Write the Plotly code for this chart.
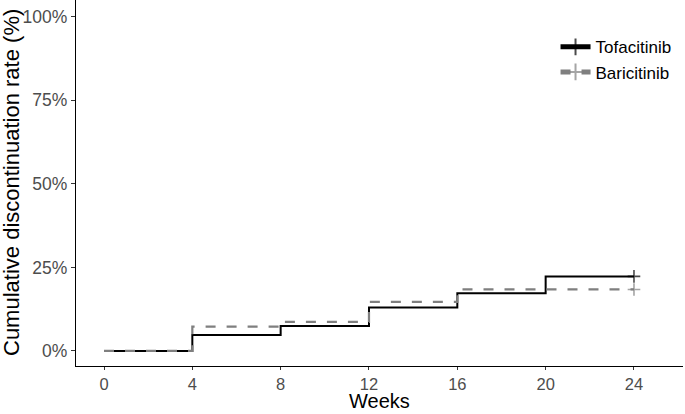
import plotly.graph_objects as go

# Data (weeks, cumulative discontinuation %)
tofa_weeks = [0, 4, 8, 12, 16, 20, 24]
tofa_rate = [0.0, 4.8, 7.5, 13.0, 17.3, 22.3, 22.3]
bari_weeks = [0, 4, 8, 12, 16, 20, 24]
bari_rate = [0.0, 7.3, 8.7, 14.7, 18.4, 18.4, 18.4]
x_ticks = [0, 4, 8, 12, 16, 20, 24]
y_ticks = [0, 25, 50, 75, 100]
y_ticklabels = ["0%", "25%", "50%", "75%", "100%"]

def sizes(n, last):
    return [0] * (n - 1) + [last]

fig = go.Figure()
fig.add_trace(go.Scatter(
    x=tofa_weeks, y=tofa_rate, name="Tofacitinib",
    mode="lines+markers", line=dict(shape="hv", color="black", width=2),
    marker=dict(symbol="cross-thin", size=sizes(len(tofa_weeks), 9),
                line=dict(color="black", width=1.6), color="black"),
))
fig.add_trace(go.Scatter(
    x=bari_weeks, y=bari_rate, name="Baricitinib",
    mode="lines+markers", line=dict(shape="hv", color="#7f7f7f", width=2.2, dash="10px,11px"),
    marker=dict(symbol="cross-thin", size=sizes(len(bari_weeks), 9),
                line=dict(color="#7f7f7f", width=1.6), color="#7f7f7f"),
))

fig.update_layout(
    width=685, height=414,
    margin=dict(l=76, r=2, t=0, b=48, autoexpand=False),
    paper_bgcolor="white", plot_bgcolor="white",
    font=dict(family="Liberation Sans, Arial, sans-serif", color="black"),
    showlegend=True,
    legend=dict(x=0.79, y=0.92, xanchor="left", yanchor="top",
                font=dict(size=17, color="black"), itemsizing="constant",
                bgcolor="rgba(0,0,0,0)", tracegroupgap=0),
    xaxis=dict(
        range=[-1.268, 26.22], tickvals=x_ticks, ticktext=[str(v) for v in x_ticks],
        showgrid=False, zeroline=False, showline=True, linecolor="black", linewidth=1.3,
        ticks="outside", ticklen=3, tickcolor="#333333", tickwidth=1.2,
        tickfont=dict(size=16.5, color="#4d4d4d"), automargin=False,
    ),
    yaxis=dict(
        range=[-4.5, 105], tickvals=y_ticks, ticktext=y_ticklabels,
        showgrid=False, zeroline=False, showline=True, linecolor="black", linewidth=1.3,
        ticks="outside", ticklen=4, tickcolor="#333333", tickwidth=1.2,
        tickfont=dict(size=17.5, color="#4d4d4d"), automargin=False,
    ),
    annotations=[
        dict(text="Weeks", xref="paper", yref="paper", x=0.5, y=0,
             xanchor="center", yanchor="bottom", yshift=-47, showarrow=False,
             borderpad=0, font=dict(size=20, color="black")),
        dict(text="Cumulative discontinuation rate (%)", xref="paper", yref="paper",
             x=0, y=0.5, xanchor="center", yanchor="middle", xshift=-65,
             textangle=-90, showarrow=False, font=dict(size=22, color="black")),
    ],
)

fig.write_html("out.html", config={"displayModeBar": False},
               post_script="document.body.style.margin='0';")
